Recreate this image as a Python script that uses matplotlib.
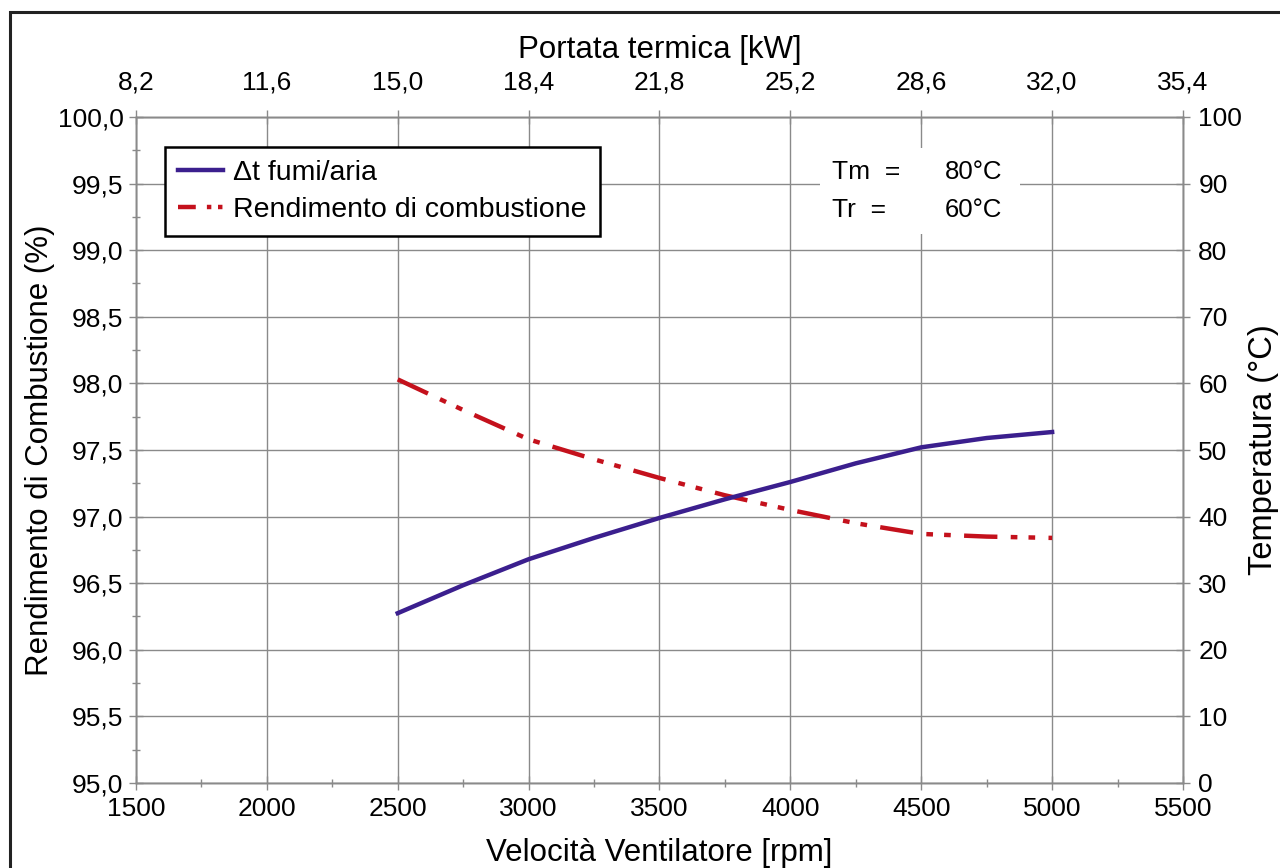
import matplotlib
matplotlib.use("Agg")
import matplotlib.pyplot as plt
from matplotlib.patches import Rectangle
from matplotlib.lines import Line2D
from matplotlib.ticker import MultipleLocator, FixedLocator, FuncFormatter

plt.rcParams["font.family"] = ["Liberation Sans", "DejaVu Sans"]

# data
rpm = [2500, 2750, 3000, 3250, 3500, 3750, 4000, 4250, 4500, 4750, 5000]
rendimento = [98.03, 97.80, 97.58, 97.43, 97.29, 97.16, 97.05, 96.95, 96.87, 96.85, 96.84]
delta_t = [25.5, 29.7, 33.6, 36.8, 39.8, 42.6, 45.2, 48.0, 50.4, 51.8, 52.7]

rpm_ticks = [1500, 2000, 2500, 3000, 3500, 4000, 4500, 5000, 5500]
kw_labels = ["8,2", "11,6", "15,0", "18,4", "21,8", "25,2", "28,6", "32,0", "35,4"]

purple = "#3b1f8e"
red = "#c4111c"
gridc = "#8a8a8a"

fig = plt.figure(figsize=(12.8, 8.68), dpi=100)
ax = fig.add_axes([136 / 1280, 1 - 783 / 868, (1183 - 136) / 1280, (783 - 117) / 868])
ax2 = ax.twinx()
ax3 = ax.twiny()

# outer frame of the picture
fig.patches.append(Rectangle((10 / 1280, -0.1), 1.2, 0.1 + (868 - 12) / 868,
                             transform=fig.transFigure, fill=False, lw=2.2,
                             edgecolor="#222222"))

ax.set_xlim(1500, 5500)
ax.set_ylim(95.0, 100.0)
ax2.set_ylim(0, 100)
ax3.set_xlim(1500, 5500)

ax.xaxis.set_major_locator(FixedLocator(rpm_ticks))
ax.xaxis.set_minor_locator(MultipleLocator(250))
ax.yaxis.set_major_locator(MultipleLocator(0.5))
ax.yaxis.set_minor_locator(MultipleLocator(0.25))
ax.yaxis.set_major_formatter(FuncFormatter(lambda v, p: f"{v:.1f}".replace(".", ",")))
ax2.yaxis.set_major_locator(MultipleLocator(10))
ax3.xaxis.set_major_locator(FixedLocator(rpm_ticks))
ax3.set_xticklabels(kw_labels)

ax.grid(True, which="major", color=gridc, lw=1.0)
ax.set_axisbelow(True)

for a in (ax, ax2, ax3):
    for s in a.spines.values():
        s.set_color(gridc)
        s.set_linewidth(1.0)
    a.tick_params(which="major", direction="inout", length=10, width=1.0,
                  color=gridc, labelsize=19, pad=4)
    a.tick_params(which="minor", direction="inout", length=6, width=1.0, color=gridc)

ax.tick_params(axis="x", pad=5)
ax2.tick_params(axis="y", pad=6)
ax3.tick_params(axis="x", pad=11)

# white box behind the temperature note
ax.add_patch(Rectangle((4113, 99.12), 764, 0.65, facecolor="white",
                       edgecolor="none", zorder=1.5))
ax.text(4159, 99.59, "Tm  =", fontsize=19, va="center", ha="left", zorder=3)
ax.text(4591, 99.59, "80°C", fontsize=18.5, va="center", ha="left", zorder=3)
ax.text(4159, 99.30, "Tr  =", fontsize=19, va="center", ha="left", zorder=3)
ax.text(4591, 99.30, "60°C", fontsize=18.5, va="center", ha="left", zorder=3)

ax.plot(rpm, rendimento, color=red, lw=3.2, dashes=(7.5, 3, 1.5, 2.5, 1.5, 3), zorder=4)
ax2.plot(rpm, delta_t, color=purple, lw=3.2, zorder=4)

ax.set_xlabel("Velocità Ventilatore [rpm]", fontsize=22.5, labelpad=12)
ax.set_ylabel("Rendimento di Combustione (%)", fontsize=22.5, labelpad=2)
ax2.set_ylabel("Temperatura (°C)", fontsize=23.5, labelpad=4)
ax3.set_xlabel("Portata termica [kW]", fontsize=22.5, labelpad=9)

handles = [
    Line2D([], [], color=purple, lw=3.2),
    Line2D([], [], color=red, lw=3.2, dashes=(4, 2.5, 1, 1.5, 1, 2)),
]
leg = ax3.legend(handles, ["\u0394t fumi/aria", "Rendimento di combustione"],
                 loc="upper left", bbox_to_anchor=(0.0277, 0.955), fontsize=20.5,
                 frameon=True, fancybox=False, framealpha=1, edgecolor="black",
                 handlelength=1.6, handletextpad=0.35, borderpad=0.45,
                 labelspacing=0.4, borderaxespad=0)
leg.get_frame().set_linewidth(1.8)

fig.savefig("out.png", dpi=100)
